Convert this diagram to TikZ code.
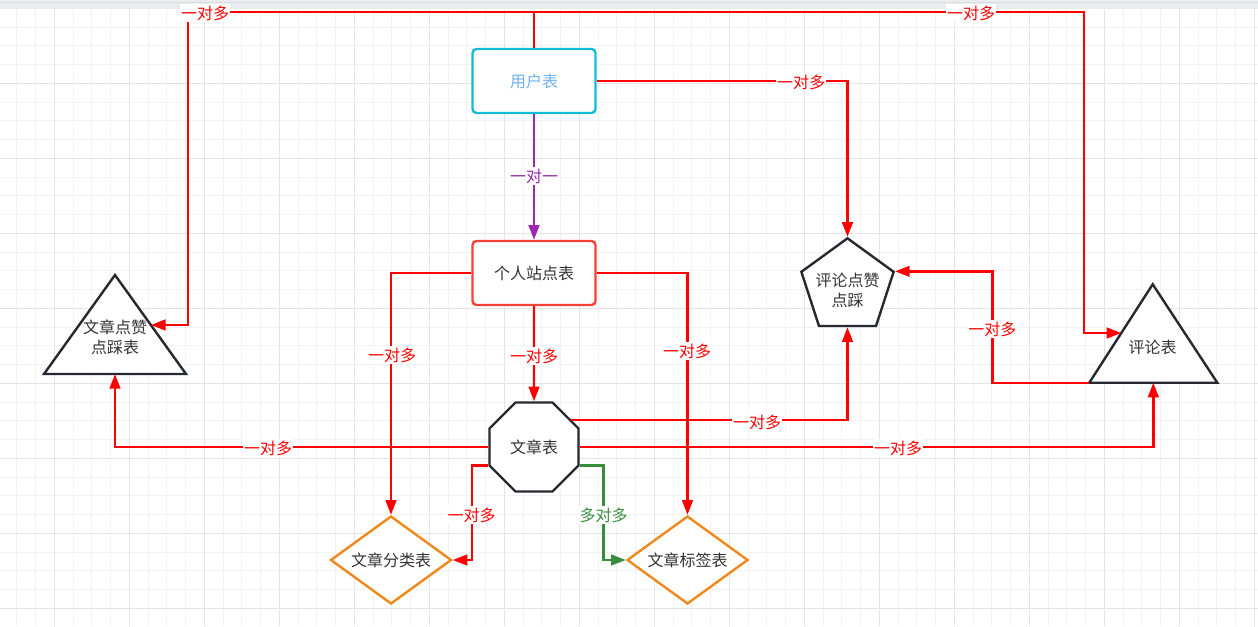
\documentclass[tikz,border=0pt]{standalone}
\usepackage{fontspec}
\setmainfont{Noto Sans CJK SC}
\usetikzlibrary{arrows.meta,calc,shapes.geometric}

\definecolor{relred}{HTML}{FF0000}
\definecolor{relpurple}{HTML}{9C27B0}
\definecolor{relgreen}{HTML}{388E3C}
\definecolor{boxcyan}{HTML}{12BCD4}
\definecolor{boxred}{HTML}{F44336}
\definecolor{boxorange}{HTML}{F0891C}
\definecolor{shapedark}{HTML}{262A30}
\definecolor{usertext}{HTML}{6FB1EE}
\definecolor{textgray}{HTML}{333333}
\definecolor{minorgrid}{HTML}{F2F2F2}
\definecolor{majorgrid}{HTML}{E4E4E4}
\definecolor{topband}{HTML}{EBECEE}
\definecolor{topline}{HTML}{D9DCE0}

\tikzset{
  tablebox/.style={rectangle, rounded corners=3pt, line width=1.8pt, fill=white,
    minimum width=92.25pt, minimum height=48pt, inner sep=0pt, text=textgray},
  octbox/.style={regular polygon, regular polygon sides=8, minimum size=72.3pt,
    inner sep=0pt, draw=shapedark, line width=1.8pt, fill=white, text=textgray},
  pentbox/.style={regular polygon, regular polygon sides=5, minimum size=72.75pt,
    inner sep=0pt, draw=shapedark, line width=1.8pt, fill=white, text=textgray, align=center},
  diabox/.style={diamond, aspect=1.375, minimum width=90.75pt, minimum height=66pt,
    inner sep=0pt, draw=boxorange, line width=1.8pt, fill=white, text=textgray},
  trishape/.style={draw=shapedark, line width=1.8pt, fill=white, line join=miter},
  tritext/.style={text=textgray, align=center, inner sep=0pt},
  rel/.style={draw=relred, line width=1.8pt, ->},
  lbl/.style={fill=white, text=relred, inner sep=1pt},
}

\begin{document}
\begin{tikzpicture}[x=0.75pt, y=-0.75pt, >={Triangle[length=11pt,width=8pt]},
    font=\fontsize{12}{15}\selectfont]
  \useasboundingbox (0,0) rectangle (1258,626);
  % background grid
  \fill[white] (0,0) rectangle (1258,626);
  \foreach \i in {0,...,67}
    \draw[minorgrid, line width=0.75pt] ({-1.95+18.75*\i},9) -- ++(0,617);
  \foreach \j in {0,...,33}
    \draw[minorgrid, line width=0.75pt] (0,{8.3+18.75*\j}) -- ++(1258,0);
  \foreach \i in {0,...,16}
    \draw[majorgrid, line width=0.75pt] ({54.3+75*\i},9) -- ++(0,617);
  \foreach \j in {0,...,7}
    \draw[majorgrid, line width=0.75pt] (0,{83.3+75*\j}) -- ++(1258,0);
  \fill[topband] (0,0) rectangle (1258,9);
  \draw[topline, line width=0.75pt] (0,2.5) -- (1258,2.5);

  % tables
  \node[tablebox, draw=boxcyan, text=usertext] (user) at (534,81) {用户表};
  \node[tablebox, draw=boxred] (site) at (534,273) {个人站点表};
  \node[octbox] (art) at (534,447) {文章表};
  \node[diabox] (cat) at (391,560) {文章分类表};
  \node[diabox] (tag) at (687.5,560) {文章标签表};
  \node[pentbox] (clike) at (847.5,286.8) {};
  \node[tritext] (clike-text) at (847.5,290) {评论点赞\\点踩};
  % triangles
  \coordinate (alike-top) at (115,275);
  \coordinate (alike-left) at (44,374);
  \coordinate (alike-right) at (186,374);
  \draw[trishape] (alike-top) -- (alike-right) -- (alike-left) -- cycle;
  \node[tritext] (alike) at (115,337) {文章点赞\\点踩表};
  \coordinate (cmt-top) at (1152.7,284.3);
  \coordinate (cmt-left) at (1089.3,382.7);
  \coordinate (cmt-right) at (1217.3,382.7);
  \draw[trishape] (cmt-top) -- (cmt-right) -- (cmt-left) -- cycle;
  \node[tritext] (cmt) at (1152.7,347) {评论表};

  % bends
  \coordinate (ualk) at (187.7,12);
  \coordinate (ucmt) at (1084,12);
  \coordinate (cbend) at (992.3,329);
  \coordinate (catbend) at (471.7,515);
  \coordinate (tagbend) at (603.5,515);

  % relations
  \draw[rel] (user.north) |- (ualk) |- ($(alike-top)!0.505!(alike-right)$);
  \draw[rel] (user.north) |- (ucmt) |- ($(cmt-top)!0.495!(cmt-left)$);
  \draw[rel] (user.east) -| (clike.north);
  \draw[rel, draw=relpurple] (user.south) -- (site.north);
  \draw[rel] (site.south) -- (art.north);
  \draw[rel] (site.west) -| (cat.north);
  \draw[rel] (site.east) -| (tag.north);
  \draw[rel] (art.west) -| ($(alike-left)!0.5!(alike-right)$);
  \draw[rel] (art.east) -| ($(cmt-left)!0.5!(cmt-right)$);
  \draw[rel] (art.36) -| (clike.south);
  \draw[rel] (cmt-left) -| (cbend) |- (clike.18);
  \draw[rel] (art.202.5) -| (catbend) |- (cat.east);
  \draw[rel, draw=relgreen] (art.-22.5) -| (tagbend) |- (tag.west);

  % labels
  \node[lbl] (l-ualk) at (205,13) {一对多};
  \node[lbl] (l-ucmt) at (971,13) {一对多};
  \node[lbl] (l-uclike) at (801,82) {一对多};
  \node[lbl, text=relpurple] (l-usite) at (534,176) {一对一};
  \node[lbl] (l-siteart) at (534,356) {一对多};
  \node[lbl] (l-sitecat) at (392,355) {一对多};
  \node[lbl] (l-sitetag) at (687,351) {一对多};
  \node[lbl] (l-artalike) at (268,448) {一对多};
  \node[lbl] (l-artcmt) at (898,448) {一对多};
  \node[lbl] (l-artclike) at (757,422) {一对多};
  \node[lbl] (l-cmtclike) at (cbend) {一对多};
  \node[lbl] (l-artcat) at (catbend) {一对多};
  \node[lbl, text=relgreen] (l-arttag) at (tagbend) {多对多};
\end{tikzpicture}
\end{document}
